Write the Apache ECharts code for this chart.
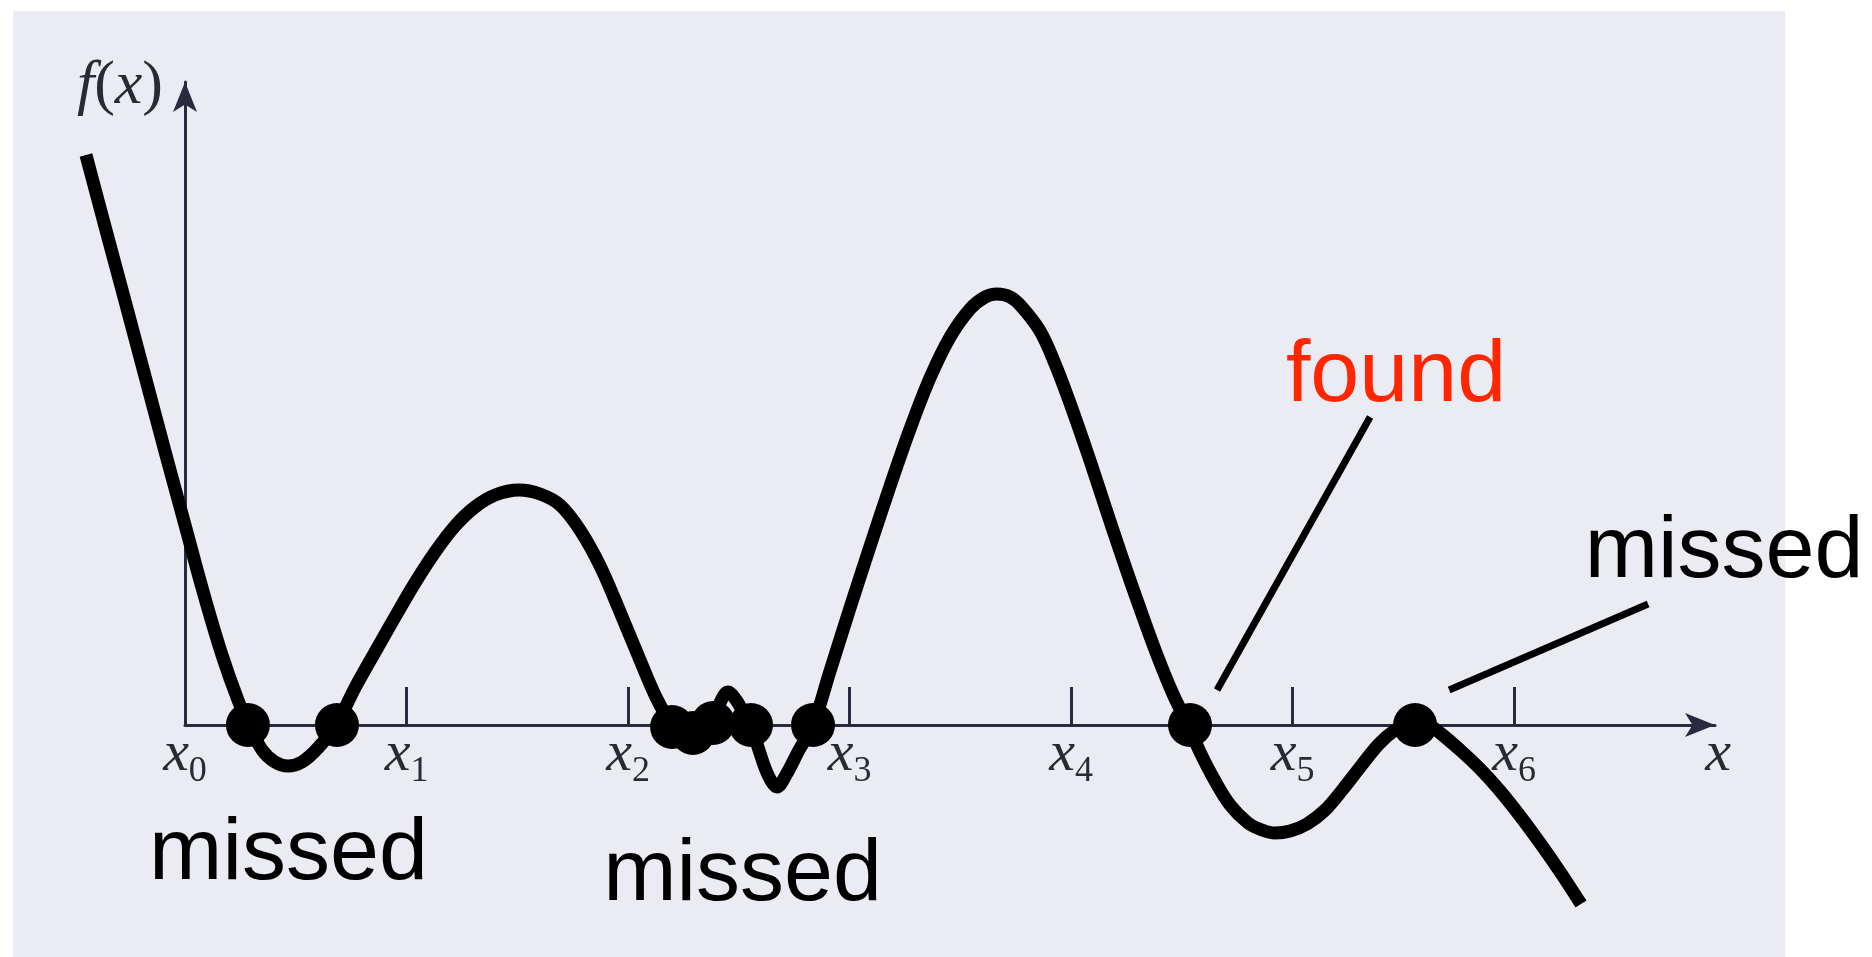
<!DOCTYPE html>
<html><head><meta charset="utf-8">
<script src="https://cdn.jsdelivr.net/npm/echarts@6/dist/echarts.min.js"></script>
<style>html,body{margin:0;padding:0;background:#fff;}#c{width:1872px;height:957px;}</style>
</head><body><div id="c"></div>
<script>
// ---- data (x in units of the tick spacing x0..x6, y in arbitrary f(x) units) ----
const curveX = [-0.447,-0.357,-0.266,-0.176,-0.086,0,0.086,0.167,0.239,0.289,0.348,0.406,0.465,0.528,0.600,0.682,0.767,0.858,0.948,1.038,1.129,1.219,1.309,1.400,1.508,1.603,1.693,1.783,1.874,1.964,2.054,2.126,2.199,2.248,2.293,2.339,2.384,2.415,2.451,2.488,2.519,2.555,2.591,2.632,2.673,2.713,2.772,2.835,2.912,3.002,3.093,3.183,3.273,3.363,3.454,3.544,3.612,3.666,3.725,3.774,3.860,3.928,3.995,4.077,4.153,4.230,4.312,4.388,4.460,4.528,4.582,4.650,4.718,4.799,4.862,4.921,4.989,5.065,5.147,5.228,5.309,5.390,5.463,5.521,5.553,5.598,5.666,5.756,5.847,5.937,6.027,6.117,6.208,6.302];
const curveY = [11.40,9.90,8.40,6.90,5.40,4.00,2.60,1.40,0.50,0,-0.50,-0.74,-0.82,-0.74,-0.46,0,
  0.74,1.46,2.16,2.84,3.46,3.98,4.36,4.60,4.70,4.62,4.40,
  3.90,3.18,2.26,1.30,0.56,
  0,-0.16,-0.22,-0.16,0.04,0.44,0.66,0.50,0.26,0,-0.50,-1.00,-1.24,-1.00,-0.50,0,
  1.08,2.34,3.58,4.78,5.92,6.94,7.76,8.32,8.56,8.62,8.56,8.38,7.88,7.22,6.44,5.40,4.38,3.36,2.32,1.40,0.62,0,
  -0.54,-1.12,-1.60,-1.96,-2.10,-2.16,-2.12,-1.98,
  -1.70,-1.28,-0.82,-0.38,-0.10,0.02,0.06,0.04,
  -0.16,-0.50,-0.88,-1.32,-1.82,-2.36,-2.94,-3.58];
const rootX = [0.284,0.686,2.199,2.293,2.384,2.555,2.835,4.537,5.553];
const rootY = [0,0,-0.04,-0.16,0.04,0,0,0,0];
const tickValues = [0,1,2,3,4,5,6];
const tickLabels = ['x0','x1','x2','x3','x4','x5','x6'];
const noteTexts = ['missed','missed','found','missed'];
const noteX = [0.467,2.517,5.467,6.948];
const noteY = [-2.59,-3.01,6.97,3.45];
const leaderFoundX = [5.350,4.659];
const leaderFoundY = [6.16,0.70];
const leaderMissX = [6.605,5.707];
const leaderMissY = [2.42,0.70];

// ---- styles ----
const AX = '#262b40';
const LABEL = '#2a2a35';
const noteColor = {found:'#ff2600', missed:'#000000'};
const zip = (a,b) => a.map((v,i) => [v,b[i]]);
const onPlot = {xAxisIndex:1, yAxisIndex:1};

const chart = echarts.init(document.getElementById('c'), null, {renderer:'canvas'});
chart.setOption({
  animation:false,
  backgroundColor:'#ffffff',
  graphic:[{type:'rect', shape:{x:13,y:11,width:1772,height:946}, style:{fill:'#eaebf3'}, z:-10, silent:true}],
  grid:[
    {left:185,right:157,top:82,bottom:232,containLabel:false,outerBoundsMode:'none'},
    {left:74.25,right:157,top:82,bottom:2,containLabel:false,outerBoundsMode:'none'}
  ],
  xAxis:[{
    type:'value', min:0, max:6.907, gridIndex:0,
    axisLine:{show:true,onZero:false,symbol:['none','arrow'],symbolSize:[18,30],lineStyle:{color:AX,width:3}},
    axisTick:{show:true,inside:true,length:38,customValues:tickValues.slice(1),lineStyle:{color:AX,width:3}},
    axisLabel:{show:true,customValues:tickValues,margin:1,
      formatter:v => { const t = tickLabels[tickValues.indexOf(v)] || ''; return '{x|' + t.charAt(0) + '}{s|' + t.slice(1) + '}'; },
      rich:{
        x:{fontFamily:'Liberation Serif',fontStyle:'italic',fontSize:58,lineHeight:58,color:LABEL,verticalAlign:'top'},
        s:{fontFamily:'Liberation Serif',fontSize:36,lineHeight:36,color:LABEL,verticalAlign:'top',padding:[28,0,0,0]}
      }},
    splitLine:{show:false},
    name:'x', nameLocation:'end', nameGap:3,
    nameTextStyle:{fontFamily:'Liberation Serif',fontStyle:'italic',fontSize:58,lineHeight:58,color:LABEL,align:'center',verticalAlign:'top',padding:[1,0,0,0]}
  },{
    type:'value', min:-0.5, max:6.907, gridIndex:1, show:false
  }],
  yAxis:[{
    type:'value', min:0, max:12.86, gridIndex:0,
    axisLine:{show:true,onZero:false,symbol:['none','arrow'],symbolSize:[18,30],lineStyle:{color:AX,width:3}},
    axisTick:{show:false}, axisLabel:{show:false}, splitLine:{show:false},
    name:'{i|f}{p|(}{i|x}{p|)}', nameLocation:'end', nameGap:-5,
    nameTextStyle:{align:'right',verticalAlign:'middle',padding:[0,22,0,0],
      rich:{
        i:{fontFamily:'Liberation Serif',fontStyle:'italic',fontSize:62,lineHeight:66,color:LABEL},
        p:{fontFamily:'Liberation Serif',fontSize:62,lineHeight:66,color:LABEL}
      }}
  },{
    type:'value', min:-4.6, max:12.86, gridIndex:1, show:false
  }],
  series:[
    Object.assign({type:'line', data:zip(curveX,curveY), smooth:0.35, symbol:'none', clip:false, silent:true, z:3,
     lineStyle:{color:'#000',width:13,cap:'butt',join:'round'}}, onPlot),
    Object.assign({type:'line', data:zip(leaderFoundX,leaderFoundY), symbol:'none', clip:false, silent:true, z:3,
     lineStyle:{color:'#000',width:7,cap:'butt'}}, onPlot),
    Object.assign({type:'line', data:zip(leaderMissX,leaderMissY), symbol:'none', clip:false, silent:true, z:3,
     lineStyle:{color:'#000',width:7,cap:'butt'}}, onPlot),
    Object.assign({type:'scatter', data:zip(rootX,rootY), symbol:'circle', symbolSize:44, clip:false, silent:true, z:4,
     itemStyle:{color:'#000',opacity:1}}, onPlot),
    Object.assign({type:'scatter', symbolSize:1, clip:false, silent:true, z:5,
     itemStyle:{color:'rgba(0,0,0,0)',opacity:1},
     data:noteTexts.map((t,i) => ({name:t, value:[noteX[i],noteY[i]],
       label:{show:true,position:'inside',formatter:'{b}',fontFamily:'Liberation Sans',fontSize:88,color:noteColor[t],opacity:1,align:'center',verticalAlign:'middle'}}))}, onPlot)
  ]
});
</script></body></html>
